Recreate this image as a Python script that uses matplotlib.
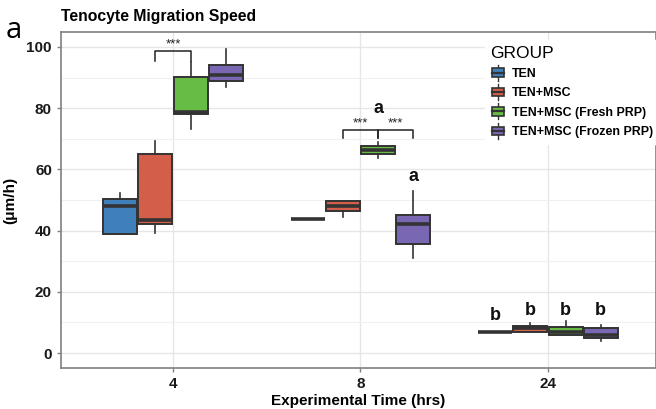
import matplotlib
matplotlib.use("Agg")
import matplotlib.pyplot as plt
from matplotlib.legend_handler import HandlerBase
from matplotlib.patches import Rectangle
from matplotlib.lines import Line2D

plt.rcParams['font.family'] = ['Liberation Sans', 'DejaVu Sans']

# -----------------------------
# Data
# -----------------------------
times = ['4', '8', '24']
groups = ['TEN', 'TEN+MSC', 'TEN+MSC (Fresh PRP)', 'TEN+MSC (Frozen PRP)']
colors = ['#3F7FBA', '#D35F4A', '#67BC45', '#7A67B4']

# per group: values at 4, 8, 24 hrs
ten_q1 = [38.8, 43.8, 6.9]
ten_med = [48.1, 43.8, 6.9]
ten_q3 = [50.2, 43.8, 6.9]
ten_lo = [38.8, 43.8, 6.9]
ten_hi = [52.4, 43.8, 6.9]

msc_q1 = [42.2, 46.5, 6.8]
msc_med = [43.4, 48.1, 8.2]
msc_q3 = [65.0, 49.8, 8.8]
msc_lo = [39.2, 44.3, 6.8]
msc_hi = [69.4, 49.8, 9.7]

fresh_q1 = [78.0, 65.1, 6.0]
fresh_med = [78.6, 66.2, 7.0]
fresh_q3 = [90.3, 67.7, 8.5]
fresh_lo = [73.1, 63.8, 6.0]
fresh_hi = [95.2, 69.0, 10.6]

frozen_q1 = [88.8, 35.7, 4.9]
frozen_med = [90.8, 42.2, 6.0]
frozen_q3 = [94.0, 45.1, 8.3]
frozen_lo = [87.0, 31.1, 3.8]
frozen_hi = [99.2, 52.9, 9.3]

stats_by_group = [
    (ten_q1, ten_med, ten_q3, ten_lo, ten_hi),
    (msc_q1, msc_med, msc_q3, msc_lo, msc_hi),
    (fresh_q1, fresh_med, fresh_q3, fresh_lo, fresh_hi),
    (frozen_q1, frozen_med, frozen_q3, frozen_lo, frozen_hi),
]

# letters above boxes: (text, time idx, group idx, y)
letter_labels = [('a', 1, 2, 80.0), ('a', 1, 3, 57.8),
                 ('b', 2, 0, 12.1), ('b', 2, 1, 14.0), ('b', 2, 2, 14.0), ('b', 2, 3, 14.0)]
# significance brackets: (time idx, group a, group b, top y, leg y)
brackets = [(0, 1, 2, 98.6, 95.5), (1, 1, 2, 72.8, 70.4), (1, 2, 3, 72.8, 70.4)]

# -----------------------------
# Plotting
# -----------------------------
fig = plt.figure(figsize=(6.56, 4.09), dpi=100)
ax = fig.add_axes([61 / 656, 41 / 409, 595 / 656, 336 / 409])

box_w = 0.1875
edge = '#333333'


def xpos(ti, gi):
    return ti + 1 + (gi - 1.5) * box_w


for gi, (q1, med, q3, lo, hi) in enumerate(stats_by_group):
    stats = []
    for ti in range(len(times)):
        stats.append(dict(q1=q1[ti], med=med[ti], q3=q3[ti], whislo=lo[ti], whishi=hi[ti], fliers=[]))
    ax.bxp(stats, positions=[xpos(ti, gi) for ti in range(len(times))], widths=box_w * 0.97,
           patch_artist=True, showcaps=False, manage_ticks=False,
           boxprops=dict(facecolor=colors[gi], edgecolor=edge, linewidth=1.4),
           medianprops=dict(color=edge, linewidth=2.6, solid_capstyle='butt'),
           whiskerprops=dict(color=edge, linewidth=1.2), zorder=3)

for ti, ga, gb, ytop, yleg in brackets:
    x1, x2 = xpos(ti, ga), xpos(ti, gb)
    ax.plot([x1, x1, x2, x2], [yleg, ytop, ytop, yleg], color='#222222', lw=1.1, zorder=4)
    ax.text((x1 + x2) / 2, ytop + 0.3, '***', ha='center', va='bottom', fontsize=9.5, color='#222222')

for txt, ti, gi, y in letter_labels:
    ax.text(xpos(ti, gi), y, txt, ha='center', va='center', fontsize=13, fontweight='bold', color='#111111')

ax.set_xlim(0.4027, 3.576)
ax.set_ylim(-4.9, 104.9)
ax.set_xticks([1, 2, 3])
ax.set_xticklabels(times)
ax.set_yticks(range(0, 101, 20))
ax.set_yticks(range(10, 101, 20), minor=True)
ax.grid(True, which='major', color='#E6E6E6', lw=1.0, zorder=0)
ax.grid(True, which='minor', axis='y', color='#F0F0F0', lw=0.8, zorder=0)
ax.set_axisbelow(True)
for s in ax.spines.values():
    s.set_color('#808080')
    s.set_linewidth(1.2)
ax.tick_params(axis='both', which='major', colors='#808080', length=3, width=1, labelsize=11)
ax.tick_params(axis='both', which='minor', length=0)
for lab in ax.get_xticklabels() + ax.get_yticklabels():
    lab.set_fontweight('bold')
    lab.set_color('#1a1a1a')

ax.set_xlabel('Experimental Time (hrs)', fontsize=11, fontweight='bold', labelpad=2)
ax.set_ylabel('(μm/h)', fontsize=11, fontweight='bold', labelpad=7)
fig.text(61 / 656, 1 - 17 / 409, 'Tenocyte Migration Speed', fontsize=11.3, fontweight='bold', va='center')
fig.text(6 / 656, 1 - 30 / 409, 'a', fontsize=21, family=['Open Sans', 'DejaVu Sans'], va='center')


class BoxKey(HandlerBase):
    def create_artists(self, legend, orig_handle, xdescent, ydescent, width, height, fontsize, trans):
        cx = width / 2 - xdescent
        bw = width * 0.8
        r = Rectangle((cx - bw / 2, -ydescent + height * 0.1), bw, height * 0.8,
                      facecolor=orig_handle.get_facecolor(), edgecolor=edge, lw=1.2, transform=trans)
        m = Line2D([cx - bw / 2, cx + bw / 2], [-ydescent + height / 2] * 2, color=edge, lw=1.6, transform=trans)
        w1 = Line2D([cx, cx], [-ydescent + height * 0.9, -ydescent + height * 1.25], color=edge, lw=1, transform=trans)
        w2 = Line2D([cx, cx], [-ydescent - height * 0.25, -ydescent + height * 0.1], color=edge, lw=1, transform=trans)
        return [w1, w2, r, m]


handles = [Rectangle((0, 0), 1, 1, facecolor=c) for c in colors]
leg = fig.legend(handles, groups, handler_map={Rectangle: BoxKey()}, loc='upper left',
                 bbox_to_anchor=(485 / 656, 1 - 40 / 409), frameon=True, fancybox=False,
                 edgecolor='white', facecolor='white', framealpha=1,
                 title='GROUP', alignment='left', handlelength=1.25, handleheight=0.95,
                 handletextpad=0.5, labelspacing=0.55, borderpad=0.45, borderaxespad=0,
                 prop=dict(size=8.9, weight='bold'), title_fontproperties=dict(size=12.5))

fig.savefig('out.png', dpi=100)
